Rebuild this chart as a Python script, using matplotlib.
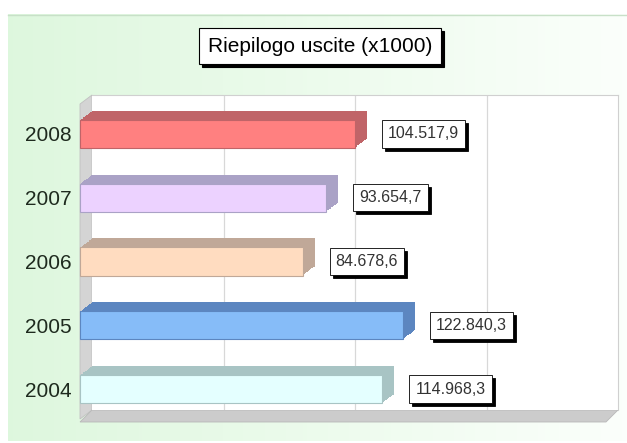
import numpy as np
import matplotlib
matplotlib.use("Agg")
import matplotlib.pyplot as plt
from matplotlib.transforms import ScaledTranslation
from matplotlib.patches import Polygon

plt.rcParams['font.family'] = ['Liberation Sans', 'DejaVu Sans']

years = ["2004", "2005", "2006", "2007", "2008"]
values = [114968.3, 122840.3, 84678.6, 93654.7, 104517.9]
front_colors = ["#e4ffff", "#86bcf8", "#ffdcc0", "#ecd2ff", "#ff8080"]
side_colors = ["#a8c4c4", "#5c86c0", "#c0a898", "#aaa2c6", "#c06468"]
title = "Riepilogo uscite (x1000)"

W, H, DPI = 627, 443, 100
fig = plt.figure(figsize=(W / DPI, H / DPI), dpi=DPI)
fig.patch.set_facecolor("white")

# decoration overlay in pixel coordinates
bg = fig.add_axes([0, 0, 1, 1], zorder=0)
bg.set_xlim(0, W)
bg.set_ylim(H, 0)
bg.axis("off")
grad = np.linspace(0, 1, 256)
c0 = np.array([0.87, 0.97, 0.87])
c1 = np.array([0.985, 1.0, 0.985])
img = c0[None, None, :] * (1 - grad[None, :, None]) + c1[None, None, :] * grad[None, :, None]
bg.imshow(img, extent=(8, W, 441, 14), aspect="auto", zorder=0)
bg.plot([8, W], [14.5, 14.5], color="#c8e0c8", lw=1, zorder=1)

L, R, T, B = 92, 618, 95, 410
DX, DY = 12, 9
# left wall and floor
bg.add_patch(Polygon([(L, T), (L, B), (L - DX, B + DY), (L - DX, T + DY)],
                     closed=True, fc="#d4d4d4", ec="#c0c0c0", lw=0.6, zorder=2))
bg.add_patch(Polygon([(L, B), (R, B), (R - DX, B + DY + 3), (L - DX, B + DY + 3)],
                     closed=True, fc="#cccccc", ec="#b8b8b8", lw=0.6, zorder=2))

# title box
tx, ty = 320, 46
for dx, dy, fc, tc, z in [(3, 3, "black", "black", 3), (0, 0, "white", "black", 4)]:
    bg.text(tx + dx, ty + dy, title, ha="center", va="center", fontsize=15, color=tc,
            zorder=z, bbox=dict(boxstyle="square,pad=0.42", fc=fc, ec="black", lw=0.8))

ax = fig.add_axes([L / W, (H - B) / H, (R - L) / W, (B - T) / H], zorder=1)
ax.set_facecolor("white")
ax.set_xlim(0, 200000)
ax.set_ylim(-0.47, 4.47)
ax.set_xticks([50000, 100000, 150000])
ax.set_xticklabels([])
ax.tick_params(axis="x", length=0)
ax.grid(axis="x", color="#d8d8d8", lw=0.9)
ax.set_axisbelow(True)
for s in ["left", "bottom"]:
    ax.spines[s].set_visible(False)
for s in ["top", "right"]:
    ax.spines[s].set_color("#d0d0d0")

pos = np.arange(len(years))
bar_h = 0.44
N = 14
for k in range(N + 1):
    off = ScaledTranslation(-k * DX / N / DPI, -k * DY / N / DPI, fig.dpi_scale_trans)
    ax.barh(pos, values, height=bar_h, color=side_colors, clip_on=False,
            transform=ax.transData + off, zorder=3, lw=0)
off = ScaledTranslation(-DX / DPI, -DY / DPI, fig.dpi_scale_trans)
ax.barh(pos, values, height=bar_h, color=front_colors, edgecolor=side_colors, lw=0.8,
        clip_on=False, transform=ax.transData + off, zorder=4)

def fmt(v):
    return f"{v:,.1f}".replace(",", "X").replace(".", ",").replace("X", ".")

for p, v in zip(pos, values):
    for dx, dy, fc, z in [(3, -3, "black", 5), (0, 0, "white", 6)]:
        ax.annotate(fmt(v), xy=(v, p), xytext=(21 + dx, -DY + dy), textcoords="offset pixels",
                    ha="left", va="center", fontsize=11.5, color="#333333", zorder=z,
                    annotation_clip=False,
                    bbox=dict(boxstyle="square,pad=0.38", fc=fc, ec="black", lw=0.6))

ax.set_yticks(pos)
ax.set_yticklabels(years, fontsize=15, color="#1e2a1e")
ax.tick_params(axis="y", length=0, pad=15)
for lab in ax.get_yticklabels():
    lab.set_transform(lab.get_transform() + ScaledTranslation(0, -DY / DPI, fig.dpi_scale_trans))

fig.savefig("out.png", dpi=DPI)
